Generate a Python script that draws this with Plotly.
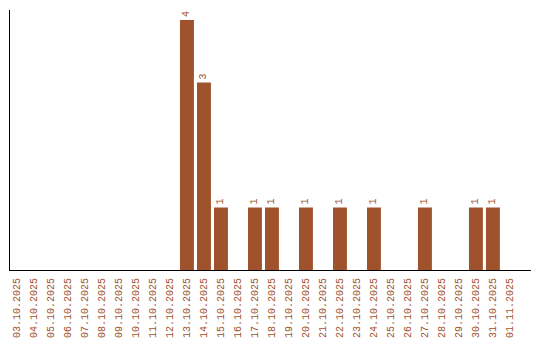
import plotly.graph_objects as go

dates = ["03.10.2025", "04.10.2025", "05.10.2025", "06.10.2025", "07.10.2025",
         "08.10.2025", "09.10.2025", "10.10.2025", "11.10.2025", "12.10.2025",
         "13.10.2025", "14.10.2025", "15.10.2025", "16.10.2025", "17.10.2025",
         "18.10.2025", "19.10.2025", "20.10.2025", "21.10.2025", "22.10.2025",
         "23.10.2025", "24.10.2025", "25.10.2025", "26.10.2025", "27.10.2025",
         "28.10.2025", "29.10.2025", "30.10.2025", "31.10.2025", "01.11.2025"]
counts = [0, 0, 0, 0, 0, 0, 0, 0, 0, 0,
          4, 3, 1, 0, 1, 1, 0, 1, 0, 1,
          0, 1, 0, 0, 1, 0, 0, 1, 1, 0]

color = "#A0522D"
font_family = "Liberation Mono"

labels = [str(v) if v else "" for v in counts]

fig = go.Figure(go.Bar(
    x=dates, y=counts, text=labels, textposition="outside", textangle=-90,
    marker=dict(color=color, line=dict(width=0)),
    textfont=dict(color=color, size=10, family=font_family),
    cliponaxis=False,
))

fig.update_layout(
    width=540, height=340,
    margin=dict(l=10, r=9, t=10, b=70, autoexpand=False),
    paper_bgcolor="white", plot_bgcolor="white",
    bargap=0.18, showlegend=False,
    font=dict(family=font_family, size=10, color=color),
)
fig.update_xaxes(
    type="category", range=[-0.41, 30.24], showline=True, linecolor="black",
    linewidth=1, showgrid=False, ticks="", tickangle=-90, ticklabelstandoff=3,
    automargin=False,
    tickfont=dict(color=color, size=10, family=font_family),
)
fig.update_yaxes(
    range=[0, 4.16], showline=True, linecolor="black", linewidth=1,
    showgrid=False, zeroline=False, showticklabels=False, ticks="",
    automargin=False,
)

fig.write_html("out.html")
